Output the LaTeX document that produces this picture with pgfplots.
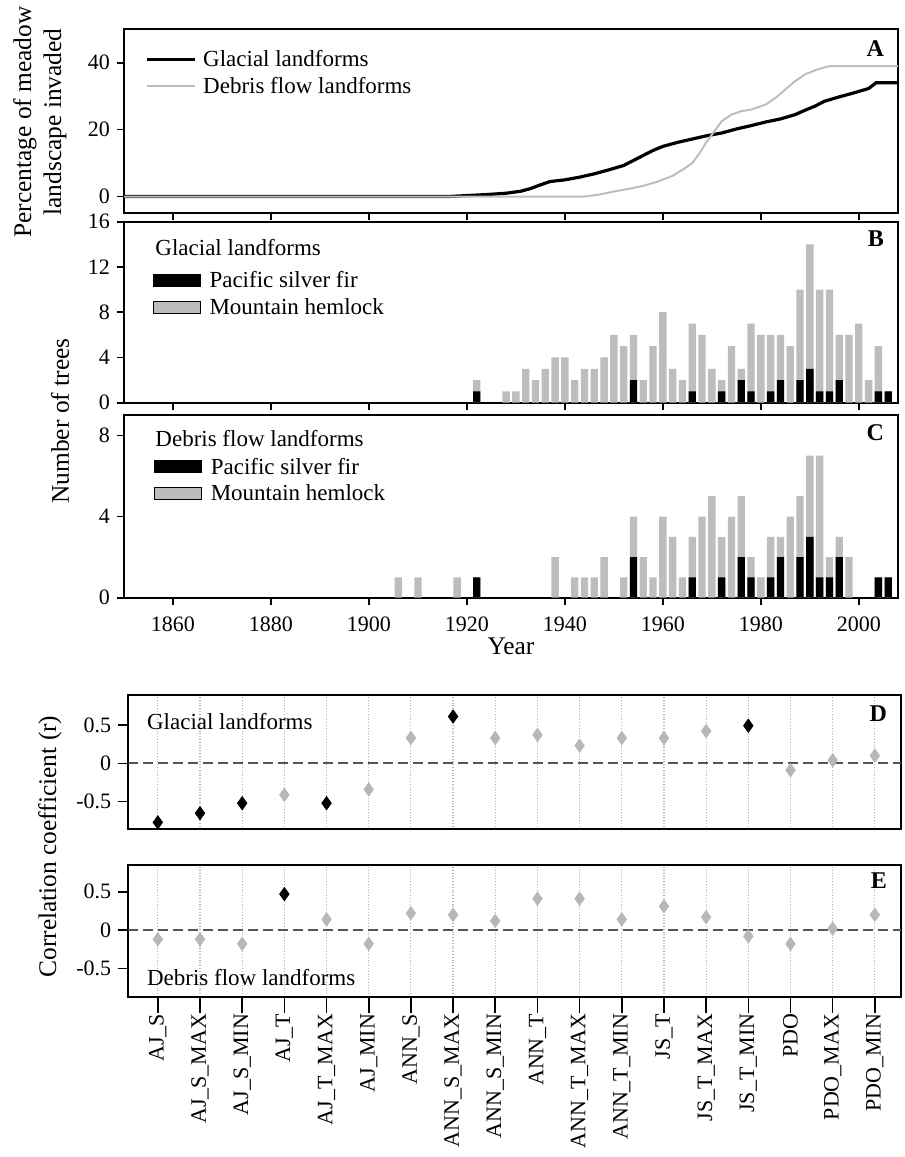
\documentclass[border=0pt]{standalone}
\usepackage{fontspec}
\setmainfont{Liberation Serif}
\usepackage{pgfplots}
\pgfplotsset{compat=1.18}

\definecolor{lgray}{HTML}{BDBDBD}
\definecolor{pgray}{HTML}{B7B7B7}
\definecolor{zline}{HTML}{555555}

\newcommand{\lab}{\fontsize{12.7}{15}\selectfont}
\newcommand{\leg}{\fontsize{11.5}{13}\selectfont}

\pgfplotsset{
  panel/.style={scale only axis, anchor=north west,
    axis line style={line width=0.9pt},
    tick style={line width=0.8pt, black},
    tick align=outside, xtick pos=bottom, ytick pos=left,
    major tick length=3.5pt,
    /pgf/number format/assume math mode=true,
    /pgf/number format/1000 sep={},
    tick label style={font=\fontsize{11}{12}\selectfont}},
  years/.style={panel, width=387pt, xmin=1850, xmax=2008,
    xtick={1860,1880,...,2000}},
  barleg/.style={legend style={draw=none, fill=none, inner sep=0pt, outer sep=0pt,
      font=\leg, column sep=4.5pt, row sep=#1,
      nodes={inner sep=0pt, text height=7.5pt, text depth=0pt}},
    legend cell align=left,
    legend image code/.code={\fill[##1] (0pt,-3pt) rectangle (23.5pt,3pt);}},
  corr/.style={panel, width=386.35pt, xmin=-0.70, xmax=17.62,
    xtick={0,...,17}, xmajorgrids,
    grid style={densely dotted, gray!60, line width=0.6pt},
    ytick={-0.5,0,0.5}, yticklabels={-0.5,0,0.5}, major tick length=5pt},
  gdot/.style={only marks, mark=diamond*, mark size=3.3pt,
    mark options={xscale=0.95, fill=pgray, draw=pgray}},
  bdot/.style={only marks, mark=diamond*, mark size=3.3pt,
    mark options={xscale=0.95, fill=black, draw=black}},
}

\begin{document}
\begin{tikzpicture}
\useasboundingbox (0pt,0pt) rectangle (452.5pt,-578.5pt);

% ---- A: percentage invaded
\begin{axis}[years, at={(62pt,-14.65pt)}, height=92pt,
  ymin=-5, ymax=50, ytick={0,20,40}, xticklabel=\empty,
  legend style={draw=none, fill=none, inner sep=0pt, outer sep=0pt, font=\leg,
    column sep=3.5pt, row sep=5.85pt,
    nodes={inner sep=0pt, text height=7.5pt, text depth=0pt},
    at={(axis description cs:0,1)}, anchor=north west, xshift=10.5pt, yshift=-11.25pt},
  legend cell align=left,
  legend image code/.code={\draw[#1] (0pt,0pt) -- (24pt,0pt);}]
\addplot[black, line width=1.6pt] coordinates {
 (1850,0) (1916,0) (1920,0.3) (1924,0.6) (1928,1.0) (1931,1.6) (1933,2.4)
 (1935,3.5) (1937,4.5) (1940,5.0) (1943,5.8) (1946,6.8) (1949,8.0) (1952,9.3)
 (1954,10.8) (1956,12.3) (1958,13.8) (1960,15.0) (1963,16.2) (1966,17.2)
 (1969,18.2) (1972,19.0) (1975,20.2) (1978,21.2) (1981,22.3) (1984,23.2)
 (1987,24.5) (1989,25.8) (1991,27.0) (1993,28.5) (1996,29.8) (1999,31.0)
 (2002,32.3) (2003.5,34.0) (2008,34.0)};
\addlegendentry{Glacial landforms}
\addplot[lgray, line width=1pt] coordinates {
 (1850,0) (1944,0) (1947,0.6) (1950,1.5) (1953,2.3) (1956,3.2) (1959,4.5)
 (1962,6.2) (1964,8.0) (1966,10.0) (1967.5,13.0) (1969,16.5) (1970.5,19.5)
 (1972,22.5) (1974,24.5) (1976,25.5) (1978,26.0) (1981,27.5) (1983,29.5)
 (1985,32.0) (1987,34.5) (1989,36.5) (1991.5,38.0) (1994,39.0) (2008,39.0)};
\addlegendentry{Debris flow landforms}
\node[anchor=east, font=\bfseries\fontsize{12}{14}\selectfont] at (axis description cs:0.991,0.897) {A};
\end{axis}

% ---- B: glacial landforms, trees per 2-year class
\begin{axis}[years, barleg=6pt, at={(62pt,-110.85pt)}, height=90.5pt,
  ymin=0, ymax=16, ytick={0,4,8,12,16}, xticklabel=\empty,
  legend style={at={(axis description cs:0,1)}, anchor=north west, xshift=14.35pt, yshift=-25.4pt}]
\addplot[ybar, bar width=1.5, bar shift=0pt, fill=lgray, draw=none, forget plot] coordinates {
 (1922,2) (1928,1) (1930,1) (1932,3) (1934,2) (1936,3) (1938,4) (1940,4)
 (1942,2) (1944,3) (1946,3) (1948,4) (1950,6) (1952,5) (1954,6) (1956,2)
 (1958,5) (1960,8) (1962,3) (1964,2) (1966,7) (1968,6) (1970,3) (1972,2)
 (1974,5) (1976,3) (1978,7) (1980,6) (1982,6) (1984,6) (1986,5) (1988,10)
 (1990,14) (1992,10) (1994,10) (1996,6) (1998,6) (2000,7) (2002,2) (2004,5)
 (2006,1)};
\addplot[ybar, bar width=1.5, bar shift=0pt, fill=black, draw=none, forget plot] coordinates {
 (1922,1) (1954,2) (1966,1) (1972,1) (1976,2) (1978,1) (1982,1) (1984,2)
 (1988,2) (1990,3) (1992,1) (1994,1) (1996,2) (2004,1) (2006,1)};
\addlegendimage{fill=black}
\addlegendentry{Pacific silver fir}
\addlegendimage{fill=lgray}
\addlegendentry{Mountain hemlock}
\node[anchor=west, font=\leg, inner sep=0pt] at (axis description cs:0.0401,0.8547) {Glacial landforms};
\node[anchor=east, font=\bfseries\fontsize{12}{14}\selectfont] at (axis description cs:0.991,0.904) {B};
\end{axis}

% ---- C: debris flow landforms
\begin{axis}[years, barleg=5.65pt, at={(62pt,-207.5pt)}, height=91.35pt,
  ymin=0, ymax=9, ytick={0,4,8}, xticklabel style={yshift=-2.5pt},
  legend style={at={(axis description cs:0,1)}, anchor=north west, xshift=15pt, yshift=-22.1pt}]
\addplot[ybar, bar width=1.5, bar shift=0pt, fill=lgray, draw=none, forget plot] coordinates {
 (1906,1) (1910,1) (1918,1) (1922,1) (1938,2) (1942,1) (1944,1) (1946,1)
 (1948,2) (1952,1) (1954,4) (1956,2) (1958,1) (1960,4) (1962,3) (1964,1)
 (1966,3) (1968,4) (1970,5) (1972,3) (1974,4) (1976,5) (1978,2) (1980,1)
 (1982,3) (1984,3) (1986,4) (1988,5) (1990,7) (1992,7) (1994,2) (1996,3)
 (1998,2) (2004,1) (2006,1)};
\addplot[ybar, bar width=1.5, bar shift=0pt, fill=black, draw=none, forget plot] coordinates {
 (1922,1) (1954,2) (1966,1) (1972,1) (1976,2) (1978,1) (1982,1) (1984,2)
 (1988,2) (1990,3) (1992,1) (1994,1) (1996,2) (2004,1) (2006,1)};
\addlegendimage{fill=black}
\addlegendentry{Pacific silver fir}
\addlegendimage{fill=lgray}
\addlegendentry{Mountain hemlock}
\node[anchor=west, font=\leg, inner sep=0pt] at (axis description cs:0.0401,0.874) {Debris flow landforms};
\node[anchor=east, font=\bfseries\fontsize{12}{14}\selectfont] at (axis description cs:0.991,0.904) {C};
\end{axis}

% ---- D: correlations, glacial
\begin{axis}[corr, at={(64.15pt,-347.5pt)}, height=67.15pt,
  ymin=-0.86, ymax=0.89, xticklabel=\empty, xtick style={draw=none}]
\addplot[zline, line width=1.1pt, dash pattern=on 5pt off 2.5pt] coordinates {(-0.70,0) (17.62,0)};
\addplot[gdot] coordinates {
 (3,-0.41) (5,-0.34) (6,0.33) (8,0.33) (9,0.37) (10,0.23) (11,0.33) (12,0.33)
 (13,0.42) (15,-0.09) (16,0.04) (17,0.10)};
\addplot[bdot] coordinates {
 (0,-0.77) (1,-0.65) (2,-0.52) (4,-0.52) (7,0.61) (14,0.49)};
\node[anchor=west, font=\leg, inner sep=0pt] at (axis description cs:0.0238,0.801) {Glacial landforms};
\node[anchor=east, font=\bfseries\fontsize{12}{14}\selectfont] at (axis description cs:0.991,0.8625) {D};
\end{axis}

% ---- E: correlations, debris flow
\begin{axis}[corr, at={(64.15pt,-432.5pt)}, height=65.85pt,
  ymin=-0.87, ymax=0.85,
  xtick style={/pgfplots/major tick length=8pt},
  xticklabel style={rotate=90, anchor=east},
  xticklabels={AJ\_S, AJ\_S\_MAX, AJ\_S\_MIN, AJ\_T, AJ\_T\_MAX, AJ\_MIN,
    ANN\_S, ANN\_S\_MAX, ANN\_S\_MIN, ANN\_T, ANN\_T\_MAX, ANN\_T\_MIN,
    JS\_T, JS\_T\_MAX, JS\_T\_MIN, PDO, PDO\_MAX, PDO\_MIN}]
\addplot[zline, line width=1.1pt, dash pattern=on 5pt off 2.5pt] coordinates {(-0.70,0) (17.62,0)};
\addplot[gdot] coordinates {
 (0,-0.12) (1,-0.12) (2,-0.18) (4,0.14) (5,-0.18) (6,0.22) (7,0.20) (8,0.12)
 (9,0.41) (10,0.41) (11,0.14) (12,0.31) (13,0.17) (14,-0.08) (15,-0.18)
 (16,0.02) (17,0.20)};
\addplot[bdot] coordinates {(3,0.47)};
\node[anchor=west, font=\leg, inner sep=0pt] at (axis description cs:0.0238,0.142) {Debris flow landforms};
\node[anchor=east, font=\bfseries\fontsize{12}{14}\selectfont] at (axis description cs:0.991,0.884) {E};
\end{axis}

% ---- axis titles
\node[rotate=90, align=center, font=\lab] at (20pt,-61pt) {Percentage of meadow\\landscape invaded};
\node[rotate=90, font=\lab] at (30pt,-210.5pt) {Number of trees};
\node[rotate=90, font=\lab] at (25pt,-423.25pt) {Correlation coefficient (r)};
\node[font=\lab] at (255.5pt,-323pt) {Year};
\end{tikzpicture}
\end{document}
